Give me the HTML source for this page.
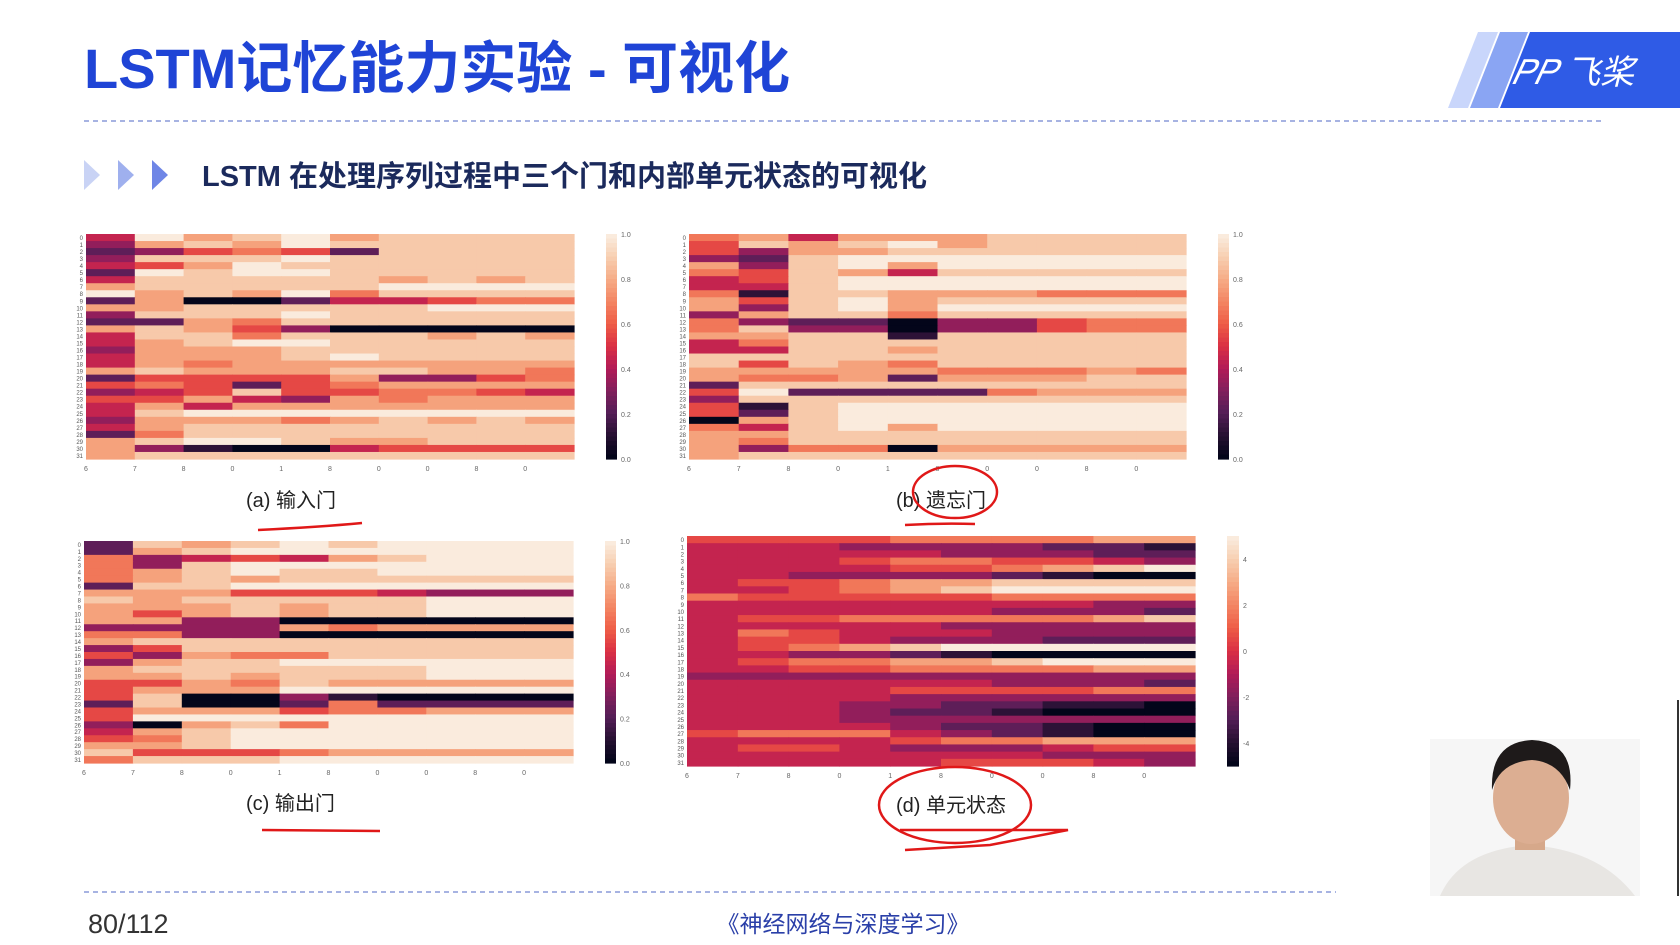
<!DOCTYPE html>
<html><head><meta charset="utf-8">
<style>
body{margin:0;width:1680px;height:945px;background:#fff;overflow:hidden;font-family:"Liberation Sans","Noto Sans CJK SC",sans-serif;}
svg{position:absolute;left:0;top:0}
</style></head>
<body>
<svg id="s" width="1680" height="945" viewBox="0 0 1680 945">
<g>
<text x="84" y="88" font-size="56" font-weight="bold" fill="#1f44d6" font-family="Liberation Sans, Noto Sans CJK SC, sans-serif">LSTM记忆能力实验 - 可视化</text>
<line x1="84" y1="121" x2="1605" y2="121" stroke="#8a9ad8" stroke-width="1.5" stroke-dasharray="5,4"/>
<polygon points="1478,32 1498,32 1468,108 1448,108" fill="#c9d6fb"/>
<polygon points="1500,32 1528,32 1498,108 1470,108" fill="#8aa5f3"/>
<polygon points="1530,32 1680,32 1680,108 1500,108" fill="#2f5be6"/>
<text x="1512" y="84" font-size="34" fill="#fff" font-style="italic">𝑃𝑃 飞桨</text>
<polygon points="84,160 100,175 84,190" fill="#c9d3f5"/>
<polygon points="118,160 134,175 118,190" fill="#9fb0ee"/>
<polygon points="152,160 168,175 152,190" fill="#6f86e6"/>
<text x="202" y="186" font-size="29" font-weight="bold" fill="#1b2a5c">LSTM 在处理序列过程中三个门和内部单元状态的可视化</text>
</g>
<g id="charts"></g>
<g>
<text x="246" y="507" font-size="20" fill="#222">(a) 输入门</text>
<text x="896" y="507" font-size="20" fill="#222">(b) 遗忘门</text>
<text x="246" y="810" font-size="20" fill="#222">(c) 输出门</text>
<text x="896" y="812" font-size="20" fill="#222">(d) 单元状态</text>
</g>
<g fill="none" stroke="#e01818" stroke-width="2.5">
<path d="M258,530 Q320,527 362,523"/>
<path d="M905,525 Q940,523 975,524"/>
<ellipse cx="955" cy="492" rx="42" ry="26"/>
<path d="M262,830 L380,831"/>
<ellipse cx="955" cy="805" rx="76" ry="38"/>
<path d="M900,830 L1068,830 L990,845 L905,850"/>
</g>
<g>
<line x1="84" y1="892" x2="1336" y2="892" stroke="#8a9ad8" stroke-width="1.5" stroke-dasharray="5,4"/>
<text x="88" y="933" font-size="27" fill="#333">80/112</text>
<text x="843" y="932" font-size="23" fill="#2a3fa8" text-anchor="middle">《神经网络与深度学习》</text>
</g>
<g>
<rect x="1430" y="739" width="210" height="157" fill="#f6f6f6"/>
<path d="M1440,896 Q1460,850 1530,845 Q1600,850 1635,896 Z" fill="#e8e6e3"/>
<rect x="1515" y="820" width="30" height="30" fill="#d6a88a"/>
<ellipse cx="1531" cy="798" rx="38" ry="46" fill="#dcae92"/>
<path d="M1492,790 Q1490,742 1532,740 Q1575,742 1570,790 Q1560,762 1532,760 Q1500,762 1492,790Z" fill="#1e1a1a"/>
</g>
<line x1="1678" y1="700" x2="1678" y2="896" stroke="#333" stroke-width="2"/>
</svg>
<script>
// heatmap data: digit 0-9 per cell, 32 rows x 10 steps
const inputGate=["4978978888","3787988888","2356528888","3888988888","4579888888","2989988888","4888887878","7888889999","9787968888","2700244566","7788888999","3888988888","2276888888","7875300000","4886888787","4789988888","3777888888","4777898888","4767777777","7877788776","2555573356","5652567777","3458556654","5574376777","4747777777","4899999999","3777678787","4788888888","2688888888","7899877888","7310045555","7888888888"];
const forgetGate=["6747778888","5878978888","5377888888","3289999999","7389799999","6587488888","4589999999","4489999999","6188777666","7589788888","7389799999","3788688888","6322033566","6833033566","7788188888","4688888888","4488788888","8888888888","8587688888","7777766676","7667277788","2888888888","5922226777","3888888888","5189999999","5289999999","0789999999","6489799999","7788888888","7688888888","7366077777","7888888888"];
const outputGate=["2878989999","2789999999","6345478999","6389999999","6789889999","6787888888","2889999999","7775554333","8788888999","7778788999","7578788999","7733000000","3333767777","6633000000","7888888888","3588888888","5376688888","3788999999","7888888999","7787888999","5576877777","5777999999","5800310000","2800262222","5777566777","5999999999","3078699999","4789999999","5689999999","7789999999","8555677777","6888999999"];
const cellState=["5555666677","4443333221","4444433322","4445665543","4444556789","4433332100","4556778888","4456789999","6555556666","4444444433","4444443332","4556666678","4444433333","4654443333","4554333222","4567899999","4433210000","4566778999","4455666677","3333333333","4444443332","4444555566","4444333333","4443322110","4443221000","4443333333","4444322100","5666432100","4444566777","4554333455","4444444333","4444455543"];
const xTickLabels=["6","7","8","0","1","8","0","0","8","0"];
const gateTicks=["1.0","0.8","0.6","0.4","0.2","0.0"];
const cellTicks=["4","2","0","-2","-4"];
const cellTickValues=[4,2,0,-2,-4];

const stops=[[0,[3,5,26]],[0.1,[40,17,51]],[0.2,[84,30,87]],[0.3,[130,31,92]],[0.4,[178,27,88]],[0.5,[218,48,68]],[0.6,[238,92,70]],[0.7,[243,132,98]],[0.8,[246,170,132]],[0.9,[247,205,175]],[1,[250,235,221]]];
function rocket(t){t=Math.max(0,Math.min(1,t));for(let i=1;i<stops.length;i++){if(t<=stops[i][0]){const a=stops[i-1],b=stops[i],f=(t-a[0])/(b[0]-a[0]);return 'rgb('+a[1].map((v,k)=>Math.round(v+(b[1][k]-v)*f)).join(',')+')';}}return 'rgb(250,235,221)';}
const NS='http://www.w3.org/2000/svg';
const root=document.getElementById('charts');
function mk(tag,attrs,parent){const e=document.createElementNS(NS,tag);for(const k in attrs)e.setAttribute(k,attrs[k]);parent.appendChild(e);return e;}

function heatmap(name,data,box,cb,vmin,vmax,ticks,tickVals){
  const g=mk('g',{},root);
  
  
  const rows=data.length,cols=data[0].length;
  const xs=c=>box.x+c*(box.w/cols), ys=r=>box.y+r*(box.h/rows);
  const val=ch=>vmin+(+ch)/9*(vmax-vmin);
  for(let r=0;r<rows;r++)for(let c=0;c<cols;c++){
    const v=val(data[r][c]);
    const cell=mk('rect',{x:xs(c),y:ys(r),width:box.w/cols+0.6,height:box.h/rows+0.6,fill:rocket((v-vmin)/(vmax-vmin))},g);
    
    
  }
  for(let r=0;r<rows;r++){
    const t=mk('text',{x:box.x-3,y:ys(r)+box.h/rows*0.85,'font-size':6,'text-anchor':'end',fill:'#555'},g);
    t.textContent=r;
    
    
  }
  for(let c=0;c<cols;c++){
    const t=mk('text',{x:xs(c),y:box.y+box.h+12,'font-size':7,'text-anchor':'middle',fill:'#666'},g);
    t.textContent=xTickLabels[c];
    
    
  }
  const n=50;
  for(let i=0;i<n;i++){
    const s=mk('rect',{x:cb.x,y:cb.y+i*cb.h/n,width:cb.w,height:cb.h/n+0.6,fill:rocket(1-i/(n-1))},g);
    
    
  }
  const cy=v=>cb.y+(vmax-v)/(vmax-vmin)*cb.h;
  ticks.forEach((lab,i)=>{
    const t=mk('text',{x:cb.x+cb.w+4,y:cy(tickVals[i])+3,'font-size':7,fill:'#666'},g);
    t.textContent=lab;
    
    
  });
}
const gateVals=[1,0.8,0.6,0.4,0.2,0];
heatmap('heatmap-input-gate',inputGate,{x:86,y:234,w:488,h:225},{x:606,y:234,w:11,h:225},0,1,gateTicks,gateVals);
heatmap('heatmap-forget-gate',forgetGate,{x:689,y:234,w:497,h:225},{x:1218,y:234,w:11,h:225},0,1,gateTicks,gateVals);
heatmap('heatmap-output-gate',outputGate,{x:84,y:541,w:489,h:222},{x:605,y:541,w:11,h:222},0,1,gateTicks,gateVals);
heatmap('heatmap-cell-state',cellState,{x:687,y:536,w:508,h:230},{x:1227,y:536,w:12,h:230},-5,5,cellTicks,cellTickValues);
</script>
</body></html>
